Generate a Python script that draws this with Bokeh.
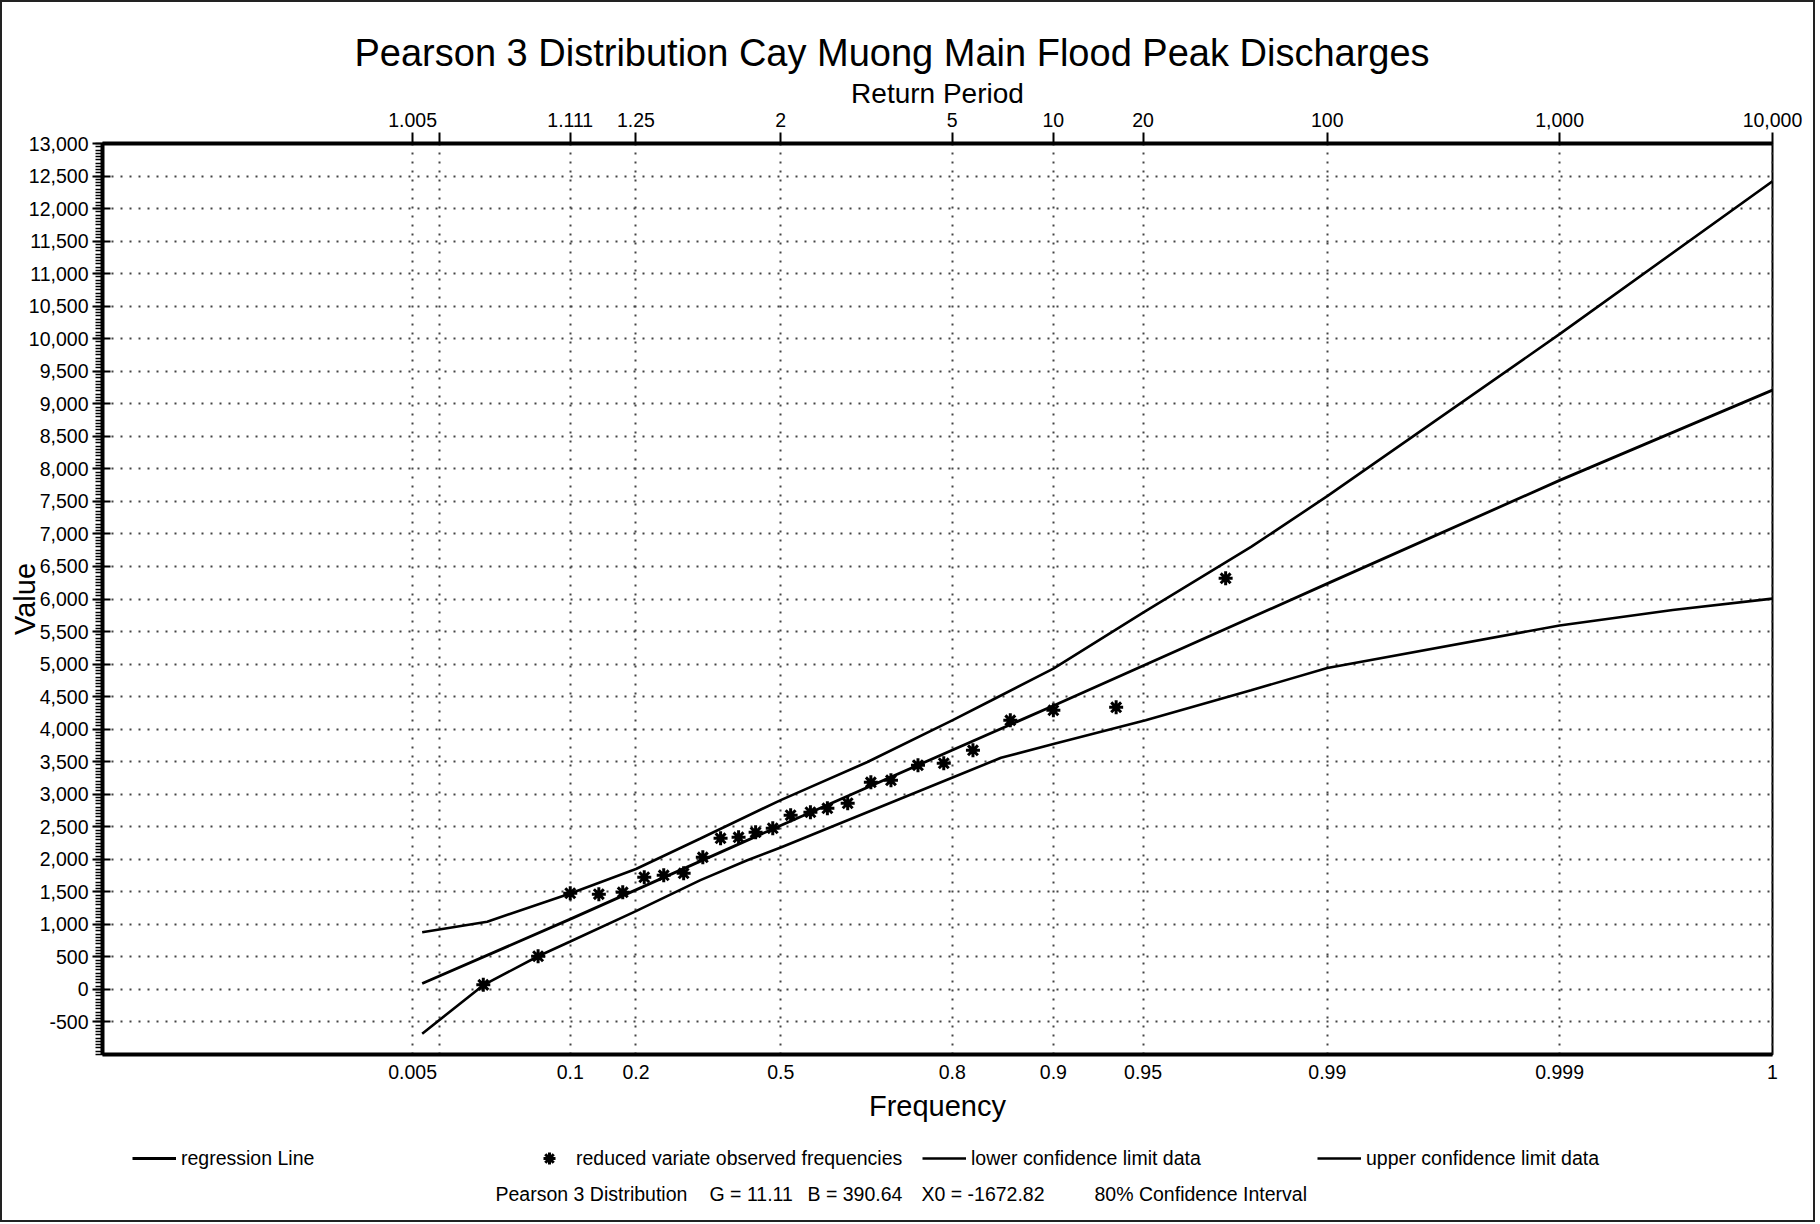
import math
from statistics import NormalDist

from bokeh.plotting import figure
from bokeh.layouts import column
from bokeh.models import (Range1d, LinearAxis, FixedTicker, NumeralTickFormatter,
                          Legend, LegendItem, Label)
from bokeh.embed import file_html
from bokeh.resources import INLINE

# ---------------- data ----------------
G = 11.11
B = 390.64
X0 = -1672.82

tick_freq = [0.005, 0.01, 0.1, 0.2, 0.5, 0.8, 0.9, 0.95, 0.99, 0.999, 0.9999]
freq_labels = ["0.005", "", "0.1", "0.2", "0.5", "0.8", "0.9", "0.95", "0.99", "0.999", "1"]
period_labels = ["1.005", "", "1.111", "1.25", "2", "5", "10", "20", "100", "1,000", "10,000"]

y_ticks = list(range(-500, 13001, 500))

reg_freq = [0.0065, 0.1, 0.5, 0.9, 0.99, 0.999, 0.9999]
reg_val = [90, 1080, 2520, 4360, 6236, 7823, 9210]

upper_freq = [0.0065, 0.028, 0.1, 0.2, 0.327, 0.5, 0.671, 0.8, 0.845, 0.9, 0.95, 0.98, 0.99, 0.999, 0.9999]
upper_val = [880, 1040, 1475, 1850, 2320, 2910, 3495, 4135, 4440, 4930, 5790, 6800, 7580, 10070, 12420]

lower_freq = [0.0065, 0.026, 0.065, 0.1, 0.2, 0.327, 0.428, 0.5, 0.802, 0.855, 0.9, 0.951, 0.98, 0.99, 0.999, 0.9997, 0.9999]
lower_val = [-680, 65, 510, 736, 1204, 1679, 1985, 2180, 3265, 3560, 3770, 4136, 4597, 4940, 5593, 5830, 6006]

obs_freq = [0.026, 0.065, 0.100, 0.139, 0.177, 0.215, 0.252, 0.292, 0.332, 0.370,
            0.409, 0.446, 0.483, 0.521, 0.562, 0.596, 0.635, 0.677, 0.711, 0.753,
            0.789, 0.825, 0.864, 0.900, 0.938, 0.975]
obs_val = [70, 510, 1478, 1463, 1493, 1724, 1754, 1785, 2031, 2323,
           2338, 2415, 2477, 2677, 2723, 2784, 2861, 3183, 3214, 3445,
           3476, 3675, 4136, 4290, 4336, 6318]

TITLE = "Pearson 3 Distribution Cay Muong Main Flood Peak Discharges"
legend_labels = ["regression Line", "reduced variate observed frequencies",
                 "lower confidence limit data", "upper confidence limit data"]


# Pearson 3 reduced variate (probability scale of the x axis)
def reduced_variate(f):
    z = NormalDist().inv_cdf(f)
    c = 1.0 / (9.0 * G)
    return G * (1.0 - c + z * math.sqrt(c)) ** 3


def rv_list(freqs):
    return [reduced_variate(f) for f in freqs]


FONT = "Liberation Sans"
W = 1815
H1 = 1135
H2 = 87
FRAME_LEFT = 102

xt = [round(reduced_variate(f), 6) for f in tick_freq]

p = figure(width=W, height=H1, output_backend="svg", toolbar_location=None,
           x_range=Range1d(-1.04, reduced_variate(0.9999)),
           y_range=Range1d(-1000, 13000),
           min_border_left=FRAME_LEFT, min_border_right=W - 1772,
           min_border_top=143, min_border_bottom=H1 - 1054)
# outer picture frame: top/left/right edges around the chart part
p.styles = {"box-shadow": "inset 2px 2px 0 #222, inset -2px 0 0 #222",
            "background-color": "white"}

p.background_fill_color = "white"
p.border_fill_color = None
p.outline_line_color = "black"
p.outline_line_width = 2

# title
p.title.text = TITLE
p.title.text_font = FONT
p.title.text_font_size = "38px"
p.title.text_font_style = "normal"
p.title.text_color = "black"
p.title.align = "left"
p.title.offset = 252
p.title.standoff = 2

# bottom axis (frequency)
bx = p.xaxis[0]
bx.ticker = FixedTicker(ticks=xt, minor_ticks=[])
bx.major_label_overrides = {x: lab for x, lab in zip(xt, freq_labels)}
bx.major_tick_out = 0
bx.major_tick_in = 0
bx.minor_tick_out = 0
bx.minor_tick_in = 0
bx.axis_line_width = 4
bx.major_label_standoff = 10
bx.axis_label = "Frequency"
bx.axis_label_standoff = 8
bx.axis_label_text_font = FONT
bx.axis_label_text_font_size = "29px"
bx.axis_label_text_font_style = "normal"
bx.axis_label_text_color = "black"
bx.major_label_text_font = FONT
bx.major_label_text_font_size = "19.5px"
bx.major_label_text_color = "black"

# top axis (return period)
tx = LinearAxis(ticker=FixedTicker(ticks=xt, minor_ticks=[]))
tx.major_label_overrides = {x: lab for x, lab in zip(xt, period_labels)}
tx.major_tick_out = 11
tx.major_tick_in = 0
tx.major_tick_line_width = 2
tx.minor_tick_out = 0
tx.minor_tick_in = 0
tx.axis_line_width = 4
tx.major_label_standoff = 6
tx.axis_label = "Return Period"
tx.axis_label_standoff = 1
tx.axis_label_text_font = FONT
tx.axis_label_text_font_size = "28px"
tx.axis_label_text_font_style = "normal"
tx.axis_label_text_color = "black"
tx.major_label_text_font = FONT
tx.major_label_text_font_size = "19.5px"
tx.major_label_text_color = "black"
p.add_layout(tx, "above")

# left axis (value)
ly = p.yaxis[0]
ly.ticker = FixedTicker(ticks=y_ticks, minor_ticks=list(range(-1000, 13001, 50)))
ly.formatter = NumeralTickFormatter(format="0,0")
ly.major_tick_out = 10
ly.major_tick_in = 8
ly.major_tick_line_width = 2
ly.minor_tick_out = 7
ly.minor_tick_in = 0
ly.minor_tick_line_width = 1.5
ly.axis_line_width = 4
ly.major_label_standoff = 4
ly.major_label_text_font = FONT
ly.major_label_text_font_size = "19.5px"
ly.major_label_text_color = "black"
ly.axis_label = "Value"
ly.axis_label_standoff = -15
ly.axis_label_text_font = FONT
ly.axis_label_text_font_size = "29px"
ly.axis_label_text_font_style = "normal"
ly.axis_label_text_color = "black"

# grids
for g in (p.xgrid, p.ygrid):
    g.grid_line_color = "#444444"
    g.grid_line_dash = "2 7"
    g.grid_line_width = 2

# series
LINE_W = 2.6
p.line(rv_list(reg_freq), reg_val, line_color="black", line_width=2.8)
p.scatter(rv_list(obs_freq), obs_val, marker="asterisk", size=14,
          line_color="black", line_width=3)
p.line(rv_list(lower_freq), lower_val, line_color="black", line_width=LINE_W)
p.line(rv_list(upper_freq), upper_val, line_color="black", line_width=LINE_W)

# ---------------- legend / footer strip ----------------
# (its frame gets aligned with the main plot frame, so x positions are
#  relative to the main frame's left edge)
p2 = figure(width=W, height=H2, output_backend="svg", toolbar_location=None,
            x_range=Range1d(0, W), y_range=Range1d(0, H2),
            x_axis_location=None, y_axis_location=None,
            min_border=0, min_border_left=0, min_border_right=0,
            min_border_top=0, min_border_bottom=0)
# outer picture frame: left/right/bottom edges around the legend strip
p2.styles = {"box-shadow": "inset 2px -2px 0 #222, inset -2px 0 0 #222",
             "background-color": "white"}
p2.outline_line_color = None
p2.xgrid.visible = False
p2.ygrid.visible = False
p2.background_fill_color = None
p2.border_fill_color = None

nan = float("nan")
k_reg = p2.line([nan], [nan], line_color="black", line_width=2.8)
k_obs = p2.scatter([nan], [nan], marker="asterisk", line_color="black", line_width=3)
k_low = p2.line([nan], [nan], line_color="black", line_width=LINE_W)
k_up = p2.line([nan], [nan], line_color="black", line_width=LINE_W)

legend = Legend(items=[LegendItem(label=lab, renderers=[r])
                       for lab, r in zip(legend_labels, [k_reg, k_obs, k_low, k_up])],
                orientation="horizontal", location=(132 - FRAME_LEFT, 49),
                glyph_width=44, glyph_height=30, label_standoff=5, label_width=336,
                spacing=10, padding=0, margin=0, border_line_color=None,
                background_fill_alpha=0, label_text_font=FONT,
                label_text_font_size="19.5px", label_text_color="black")
p2.add_layout(legend, "center")

footer = [("Pearson 3 Distribution", 495), (f"G = {G}", 709), (f"B = {B}", 807),
          (f"X0 = {X0}", 921), ("80% Confidence Interval", 1094)]
for txt, xs in footer:
    p2.add_layout(Label(x=xs - FRAME_LEFT, y=29, x_units="screen", y_units="screen",
                        text=txt, text_baseline="middle", text_font=FONT,
                        text_font_size="19.5px", text_color="black"))

layout = column(p, p2, spacing=0)

open("out.html", "w").write(file_html(layout, INLINE))
